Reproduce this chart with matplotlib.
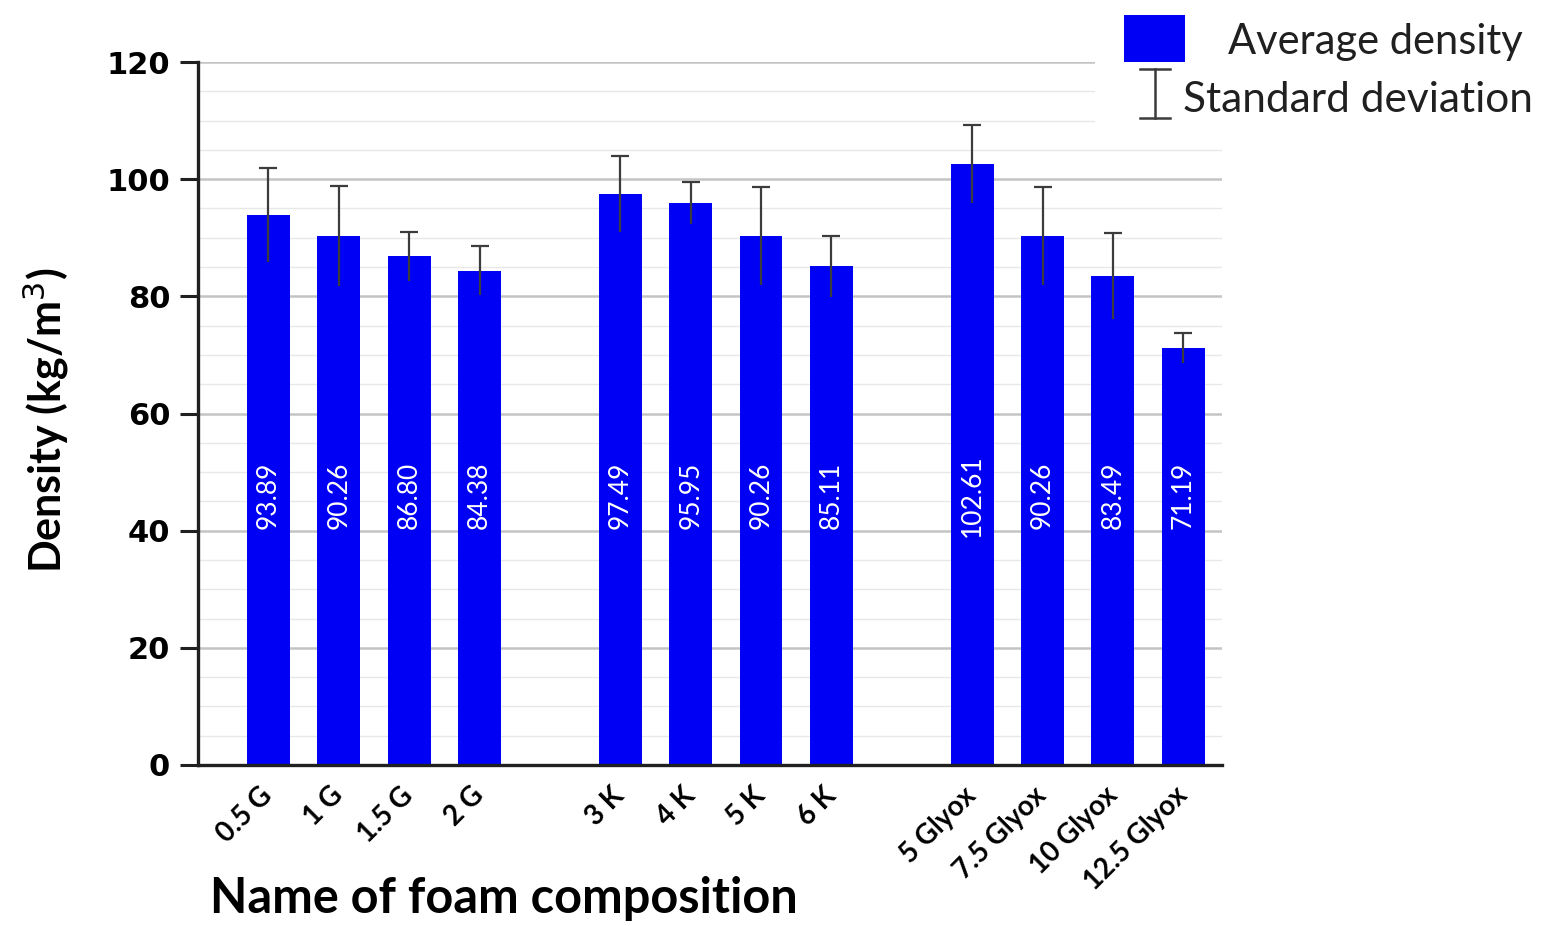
import matplotlib.pyplot as plt
from matplotlib.lines import Line2D
from matplotlib.patches import Rectangle
from matplotlib.ticker import MultipleLocator

# foam compositions, split in three families with a blank slot between them
categories = ["0.5 G", "1 G", "1.5 G", "2 G",
              "3 K", "4 K", "5 K", "6 K",
              "5 Glyox", "7.5 Glyox", "10 Glyox", "12.5 Glyox"]
slots = [0, 1, 2, 3, 5, 6, 7, 8, 10, 11, 12, 13]
density = [93.89, 90.26, 86.80, 84.38,
           97.49, 95.95, 90.26, 85.11,
           102.61, 90.26, 83.49, 71.19]
std_dev = [8.0, 8.5, 4.1, 4.2,
           6.5, 3.6, 8.4, 5.2,
           6.7, 8.4, 7.4, 2.6]

BAR_BLUE = "#0000f4"
ERR_GREY = "#3c3c3c"
LABEL_FONT = "Lato"

fig = plt.figure(figsize=(15.42, 9.26), dpi=100)
ax = fig.add_axes([198 / 1542, 1 - 765 / 926, 1024 / 1542, 703 / 926])

ax.bar(slots, density, width=0.61, color=BAR_BLUE, zorder=2)
err = ax.errorbar(slots, density, yerr=std_dev, fmt="none", ecolor=ERR_GREY,
                  elinewidth=1.6, capsize=6.5, capthick=1.6, zorder=3)
# only the upper cap shows above the bar
err[1][0].set_visible(False)

for x, v in zip(slots, density):
    ax.text(x, 46, f"{v:.2f}", rotation=90, ha="center", va="center",
            color="white", fontsize=19, family=LABEL_FONT, zorder=4)

ax.set_xlim(-1.0, 13.55)
ax.set_ylim(0, 120)
ax.yaxis.set_major_locator(MultipleLocator(20))
ax.yaxis.set_minor_locator(MultipleLocator(5))
ax.grid(which="major", axis="y", color="#c4c4c4", linewidth=1.8)
ax.grid(which="minor", axis="y", color="#e8e8e8", linewidth=1.0)
ax.set_axisbelow(True)

for side in ("top", "right"):
    ax.spines[side].set_visible(False)
for side in ("left", "bottom"):
    ax.spines[side].set_linewidth(2.4)
    ax.spines[side].set_color("#202020")

ax.tick_params(axis="y", which="major", length=13, width=2.2, color="#202020",
               pad=7, labelsize=22)
ax.tick_params(axis="y", which="minor", length=0)
for lbl in ax.get_yticklabels():
    lbl.set_fontweight("bold")
    lbl.set_family("DejaVu Sans")

ax.set_xticks(slots)
ax.set_xticklabels(categories, rotation=45, ha="right", va="center",
                   rotation_mode="anchor", fontsize=20, fontweight="bold",
                   family=LABEL_FONT)
ax.tick_params(axis="x", length=0, pad=19)

fig.text(46 / 1542, 1 - 420 / 926, "Density (kg/m$^3$)", rotation=90,
         ha="center", va="center", fontsize=31, fontweight="bold",
         family=LABEL_FONT)
fig.text(210 / 1542, 1 - 913 / 926, "Name of foam composition", ha="left",
         va="baseline", fontsize=35, fontweight="bold", family=LABEL_FONT)

# legend block in the top-right corner
fig.add_artist(Rectangle((1095 / 1542, 1 - 125 / 926), 447 / 1542, 125 / 926,
                         transform=fig.transFigure, facecolor="white",
                         edgecolor="none", zorder=5))
fig.add_artist(Rectangle((1124 / 1542, 1 - 62 / 926), 61 / 1542, 47 / 926,
                         transform=fig.transFigure, facecolor=BAR_BLUE,
                         edgecolor="none", zorder=6))
sx, y0, y1, cw = 1155 / 1542, 1 - 118 / 926, 1 - 69 / 926, 15 / 1542
for xs, ys in (([sx, sx], [y0, y1]), ([sx - cw, sx + cw], [y0, y0]),
               ([sx - cw, sx + cw], [y1, y1])):
    fig.add_artist(Line2D(xs, ys, transform=fig.transFigure, color=ERR_GREY,
                          linewidth=1.8, zorder=6))
fig.text(1228 / 1542, 1 - 42 / 926, "Average density", ha="left", va="center",
         fontsize=30, family=LABEL_FONT, color="#202020", zorder=6)
fig.text(1183 / 1542, 1 - 100 / 926, "Standard deviation", ha="left",
         va="center", fontsize=30.5, family=LABEL_FONT, color="#202020",
         zorder=6)

fig.savefig("out.png", dpi=100, facecolor="white")
